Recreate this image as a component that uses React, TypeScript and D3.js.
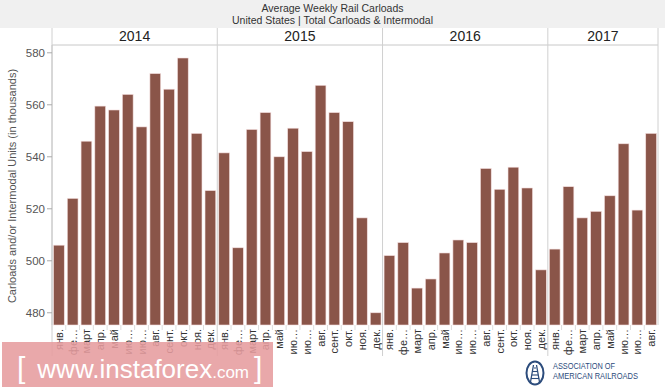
import * as d3 from 'd3'

const years = ['2014', '2015', '2016', '2017']
const monthLabels = ['янв.', 'фе…', 'март', 'апр.', 'май', 'ию…', 'ию…', 'авг.', 'сент.', 'окт.', 'ноя.', 'дек.']

const values2014 = [506, 524, 546, 559.5, 558, 564, 551.5, 572, 566, 578, 549, 527]
const values2015 = [541.5, 505, 550.5, 557, 540, 551, 542, 567.5, 557, 553.5, 516.5, 480]
const values2016 = [502, 507, 489.5, 493, 503, 508, 507, 535.5, 527.5, 536, 528, 496.5]
const values2017 = [504.5, 528.5, 516.5, 519, 525, 545, 519.5, 549]

const yTicks = [480, 500, 520, 540, 560, 580]

const W = 665
const H = 389
const left = 52
const right = 658
const top = 45
const bottom = 325
const barColor = '#8a5549'
const font = '"Liberation Sans", Arial, sans-serif'

export default function App() {
  const series = [values2014, values2015, values2016, values2017]
  const rows = series.flatMap((vals, yi) =>
    vals.map((v, mi) => ({ key: `${years[yi]}-${mi}`, year: years[yi], month: mi, value: v }))
  )

  const x = d3.scaleBand<string>()
    .domain(rows.map(r => r.key))
    .range([left, right])
    .paddingInner(0.22)
    .paddingOuter(0.11)

  const y = d3.scaleLinear().domain([475.3, 583]).range([bottom, top])

  const step = x.step()
  const yearStart = (yi: number) => {
    const k = rows.find(r => r.year === years[yi])!.key
    return x(k)! - step * x.paddingOuter()
  }
  const bounds = years.map((_, i) => yearStart(i)).concat([right])

  return (
    <svg width={W} height={H} style={{ position: 'absolute', left: 0, top: 0, background: '#fff' }} fontFamily={font}>
      {/* title band */}
      <rect x={0} y={0} width={W} height={28} fill="#f0f0f0" />
      <text x={W / 2} y={12} textAnchor="middle" fontSize={10.5} fill="#333">Average Weekly Rail Carloads</text>
      <text x={W / 2} y={24} textAnchor="middle" fontSize={10.5} fill="#333">United States | Total Carloads &amp; Intermodal</text>

      {/* year header */}
      <line x1={left} x2={right} y1={top} y2={top} stroke="#c8c8c8" />
      {years.map((yr, i) => (
        <text key={yr} x={(bounds[i] + bounds[i + 1]) / 2} y={41} textAnchor="middle" fontSize={14} fill="#222">{yr}</text>
      ))}
      {bounds.map((b, i) => (
        <line key={i} x1={b} x2={b} y1={28} y2={i === bounds.length - 1 ? bottom : 356} stroke="#d0d0d0" />
      ))}

      {/* y axis */}
      <line x1={left} x2={left} y1={top} y2={bottom} stroke="#c8c8c8" />
      {yTicks.map(t => (
        <g key={t}>
          <line x1={left - 5} x2={left} y1={y(t)} y2={y(t)} stroke="#aaa" />
          <text x={left - 7} y={y(t) + 4} textAnchor="end" fontSize={11.5} fill="#555">{t}</text>
        </g>
      ))}
      <text transform="translate(16,186) rotate(-90)" textAnchor="middle" fontSize={11} fill="#555">
        Carloads and/or Intermodal Units (in thousands)
      </text>

      {/* bars */}
      {rows.map(r => (
        <rect key={r.key} x={x(r.key)} y={y(r.value)} width={x.bandwidth()} height={bottom - y(r.value)}
          fill={barColor} stroke="#f4dede" strokeWidth={0.6} />
      ))}

      {/* month ticks and labels */}
      {rows.map(r => (
        <line key={'t' + r.key} x1={x(r.key)! - step * 0.11} x2={x(r.key)! - step * 0.11} y1={bottom} y2={bottom + 5} stroke="#ddd" />
      ))}
      {rows.map(r => (
        <text key={'l' + r.key} transform={`translate(${x(r.key)! + x.bandwidth() / 2 + 4},${bottom + 4}) rotate(-90)`}
          textAnchor="end" fontSize={11} fill="#333">{monthLabels[r.month]}</text>
      ))}

      {/* watermark */}
      <rect x={2} y={342} width={271} height={45} fill="#e69c9e" opacity={0.88} />
      <text x={17} y={378} fill="#fff">
        <tspan fontSize={30}>[</tspan>
        <tspan dx={12} fontSize={26}>www.instaforex</tspan>
        <tspan fontSize={17}>.com</tspan>
        <tspan dx={5} fontSize={30}>]</tspan>
      </text>

      {/* AAR logo */}
      <g transform="translate(535,373)" stroke="#2c4c7c" fill="none">
        <ellipse rx={8.5} ry={11.5} strokeWidth={2} />
        <path d="M-1.5,-8 L-4.5,9 M1.5,-8 L4.5,9" strokeWidth={1.3} />
        {[-5, -1.5, 2, 5.5].map(d => (
          <line key={d} x1={-2.5 - d * 0.3} x2={2.5 + d * 0.3} y1={d} y2={d} strokeWidth={1.1} />
        ))}
      </g>
      <text x={553} y={369} fontSize={9.5} fill="#2c4c7c" textLength={62} lengthAdjust="spacingAndGlyphs">ASSOCIATION OF</text>
      <text x={553} y={379} fontSize={9.5} fill="#2c4c7c" textLength={85} lengthAdjust="spacingAndGlyphs">AMERICAN RAILROADS</text>
    </svg>
  )
}
